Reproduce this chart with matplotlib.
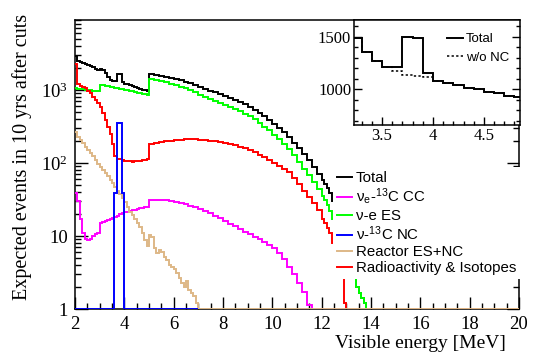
import numpy as np
import matplotlib
matplotlib.use("Agg")
import matplotlib.pyplot as plt
from matplotlib.lines import Line2D
from matplotlib.ticker import MultipleLocator, LogLocator, NullFormatter, FormatStrFormatter

plt.rcParams['mathtext.fontset'] = 'stix'

# bin edges (MeV): 0.1 below 5 MeV, 0.2 up to 12 MeV, 0.1 in the tail, one empty bin to 20
edges = np.round(np.concatenate([np.arange(2.0, 5.0, 0.1),
                                 np.arange(5.0, 12.0, 0.2),
                                 np.arange(12.0, 14.01, 0.1),
                                 [20.0]]), 2)

# events per bin, sections: 2-5 MeV | 5-12 MeV | 12-14 MeV | 14-20 MeV
total = [2900, 2530, 2450, 2380, 2300, 2200, 2130, 2060, 1960, 1880,
         1950, 1900, 1690, 1490, 1370, 1320, 1320, 1660, 1660, 1270,
         1210, 1190, 1160, 1130, 1100, 1070, 1040, 1010, 990, 970,
         1650, 1605, 1560, 1510, 1460, 1405, 1350, 1290, 1230, 1165,
         1095, 1030, 975, 925, 880, 830, 780, 735, 690, 640,
         590, 540, 490, 435, 385, 340, 300, 262, 225, 190,
         160, 133, 110, 88, 70,
         58, 52, 46, 39, 30, 25, 19, 15, 11, 7.5,
         4.5, 3.7, 3.1, 2.7, 2.0, 1.64, 1.4, 1.2, 0, 0,
         0]
nue_cc = [39, 30, 17, 11, 9.2, 8.8, 9.2, 10, 10.6, 11,
          15, 15.5, 16, 16.5, 17, 17.5, 18.2, 19, 19.8, 20.5,
          21, 21.5, 22, 22.5, 23, 23.4, 23.9, 24.4, 24.8, 25.2,
          31, 31.2, 31.2, 30.8, 30.2, 29.4, 28.4, 27.2, 26, 24.6,
          23.2, 21.8, 20.4, 19, 17.6, 16.2, 14.8, 13.5, 12.5, 11.5,
          10.6, 9.8, 9.0, 8.3, 7.6, 6.8, 5.8, 4.8, 3.8, 3.0,
          2.3, 1.7, 1.15, 0, 0,
          0, 0, 0, 0, 0, 0, 0, 0, 0, 0,
          0, 0, 0, 0, 0, 0, 0, 0, 0, 0,
          0]
nu_es = [1050, 1040, 1030, 1020, 1010, 1000, 990, 980, 970, 965,
         1170, 1155, 1140, 1120, 1105, 1090, 1070, 1055, 1040, 1020,
         1005, 990, 970, 955, 940, 920, 905, 890, 870, 855,
         1410, 1370, 1320, 1270, 1220, 1160, 1105, 1050, 990, 930,
         865, 805, 755, 710, 668, 626, 590, 555, 515, 475,
         435, 395, 355, 315, 280, 245, 212, 182, 155, 128,
         104, 84, 68, 55, 44,
         35, 31, 27, 22, 17, 14, 11, 9, 7, 5.6,
         4.5, 3.7, 3.1, 2.7, 2.0, 1.64, 1.4, 1.2, 0, 0,
         0]
radio = [2300, 1200, 1150, 1100, 1050, 980, 900, 810, 730, 660,
         590, 480, 390, 314, 250, 180, 125, 115, 114, 110,
         108, 106, 105, 104, 105, 106, 107, 109, 111, 113,
         180, 188, 194, 199, 203, 206, 208, 210, 210, 210,
         208, 205, 202, 198, 193, 188, 182, 176, 168, 160,
         150, 140, 130, 120, 110, 100, 92, 84, 75, 63,
         52, 42, 34, 28, 22.5,
         17, 15, 13, 10.9, 8, 6.5, 5.2, 4.2, 3.4, 1.2,
         0, 0, 0, 0, 0, 0, 0, 0, 0, 0,
         0]

# reactor ES+NC: 0.1 MeV bins from 2 to 7 MeV, then empty
reactor_edges = np.round(np.concatenate([np.arange(2.0, 7.01, 0.1), [20.0]]), 2)
reactor = [268, 229, 207, 187, 168, 152, 136, 123, 110, 97,
           89, 80, 72, 66, 58.5, 52.5, 47.4, 42, 37.7, 33,
           28.9, 25.2, 21.5, 19.4, 16.9, 14.9, 13.1, 10.9, 8.8, 7.4,
           10.3, 9.7, 6.8, 5.8, 6.4, 6.1, 5.2, 4.7, 4.0, 3.8,
           3.5, 3.1, 2.7, 2.3, 2.0, 2.4, 1.8, 1.64, 1.5, 1.2,
           0]

# nu-13C NC line around 3.7-3.9 MeV
nc_edges = [2.0, 3.6, 3.7, 3.9, 4.0, 7.0]
nc = [0, 39, 356, 39, 0]

# inset: zoom on 3.2-4.9 MeV, linear scale
inset_edges = np.round(np.arange(3.2, 4.91, 0.1), 2)
inset_total = [1484, 1358, 1269, 1209, 1209, 1495, 1485, 1152, 1079,
               1063, 1041, 1016, 1000, 978, 962, 940, 930]
inset_wo_nc = [1484, 1358, 1269, 1209, 1170, 1139, 1129, 1113, 1079,
               1063, 1041, 1016, 1000, 978, 962, 940, 930]

labels = ['Total', r'ν$_\mathregular{e}$-$^\mathregular{13}$C CC', 'ν-e ES',
          r'ν-$^\mathregular{13}$C NC', 'Reactor ES+NC', 'Radioactivity & Isotopes']
colors = ['black', '#ff00ff', '#00ff00', '#0000ff', '#deb887', '#ff0000']

serif = 'Liberation Serif'
sans = 'Liberation Sans'
YMIN = 1.0


def floor(v):
    # empty bins are drawn on the axis floor, like ROOT does
    v = np.asarray(v, float)
    return np.where(v > 0, v, YMIN)


fig = plt.figure(figsize=(5.46, 3.61), dpi=100)
ax = fig.add_axes([75 / 546, 1 - 309 / 361, 444 / 546, 289 / 361])

lw = 1.4
ax.stairs(floor(total), edges, baseline=None, color=colors[0], lw=lw, zorder=2)
ax.stairs(floor(nue_cc), edges, baseline=None, color=colors[1], lw=lw, zorder=3)
ax.stairs(floor(nu_es), edges, baseline=None, color=colors[2], lw=lw, zorder=4)
ax.stairs(floor(radio), edges, baseline=None, color=colors[5], lw=lw, zorder=5)
ax.stairs(floor(reactor), reactor_edges, baseline=None, color=colors[4], lw=lw, zorder=6)
ax.stairs(floor(nc), nc_edges, baseline=None, color=colors[3], lw=lw, zorder=7)

ax.set_yscale('log')
ax.set_xlim(2, 20)
ax.set_ylim(YMIN, 9100)
ax.xaxis.set_major_locator(MultipleLocator(2))
ax.xaxis.set_minor_locator(MultipleLocator(0.5))
ax.set_yticks([1, 10, 100, 1000])
ax.set_yticklabels(['1', '10', r'$\mathregular{10^{2}}$', r'$\mathregular{10^{3}}$'])
ax.yaxis.set_minor_locator(LogLocator(base=10, subs=np.arange(2, 10)))
ax.yaxis.set_minor_formatter(NullFormatter())
ax.tick_params(which='both', direction='in', right=True, top=False, width=1)
ax.tick_params(which='major', length=9, labelsize=13.5, pad=5)
ax.tick_params(which='minor', length=4.5)
for t in ax.get_xticklabels() + ax.get_yticklabels():
    t.set_fontfamily(serif)
for s in ax.spines.values():
    s.set_linewidth(1.1)

fig.text(22 / 546, 1 - 14 / 361, 'Expected events in 10 yrs after cuts', rotation=90,
         ha='center', va='top', fontsize=14.5, family=serif)
fig.text(506 / 546, 1 - 343 / 361, 'Visible energy [MeV]', ha='right', va='center',
         fontsize=14, family=serif)

handles = [Line2D([], [], color=c, lw=lw) for c in colors]
leg = ax.legend(handles, labels, loc='upper left', bbox_to_anchor=(333 / 546, 1 - 167 / 361),
                bbox_transform=fig.transFigure, prop={'family': sans, 'size': 10.8},
                frameon=True, fancybox=False, framealpha=1, edgecolor='none',
                handlelength=1.0, handletextpad=0.25, labelspacing=0.12, borderpad=0.25,
                borderaxespad=0)
leg.set_zorder(20)

# inset
axi = fig.add_axes([354 / 546, 1 - 125 / 361, 166 / 546, 105 / 361])
axi.stairs(inset_wo_nc, inset_edges, baseline=None, color='black', lw=1.1, ls=(0, (1.5, 1.5)))
axi.stairs(inset_total, inset_edges, baseline=None, color='black', lw=1.4)
axi.set_xlim(3.226, 4.854)
axi.set_ylim(660, 1660)
axi.xaxis.set_major_locator(MultipleLocator(0.5))
axi.xaxis.set_minor_locator(MultipleLocator(0.1))
axi.xaxis.set_major_formatter(FormatStrFormatter('%g'))
axi.yaxis.set_major_locator(MultipleLocator(500))
axi.yaxis.set_minor_locator(MultipleLocator(100))
axi.tick_params(which='both', direction='in', right=True, top=False, width=1)
axi.tick_params(which='major', length=6, labelsize=12, pad=2)
axi.tick_params(which='minor', length=3)
for t in axi.get_xticklabels() + axi.get_yticklabels():
    t.set_fontfamily(serif)
for s in axi.spines.values():
    s.set_linewidth(1.1)
ih = [Line2D([], [], color='black', lw=1.4),
      Line2D([], [], color='black', lw=1.1, ls=(0, (1.5, 1.5)))]
axi.legend(ih, ['Total', 'w/o NC'], loc='upper left', bbox_to_anchor=(447 / 546, 1 - 33 / 361),
           bbox_transform=fig.transFigure, prop={'family': sans, 'size': 9.5},
           frameon=False, handlelength=1.2, handletextpad=0.25, labelspacing=0.5,
           borderpad=0, borderaxespad=0)

fig.savefig('out.png', dpi=100)
